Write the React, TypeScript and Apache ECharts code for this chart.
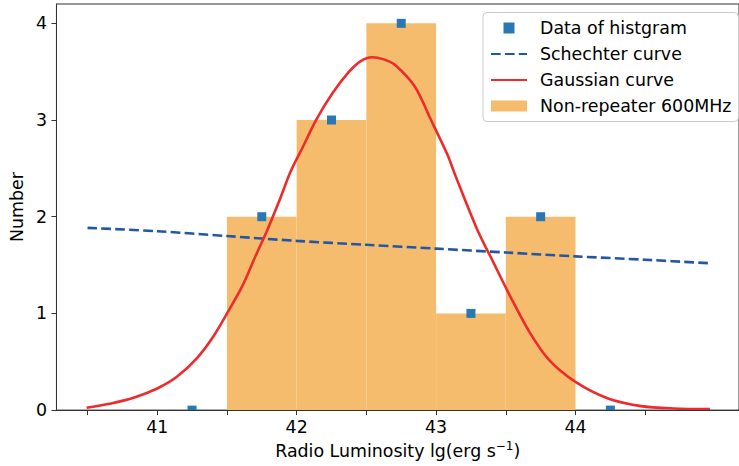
import React, { useEffect, useRef } from "react";
import * as echarts from "echarts";

const binEdges = [41.5, 42, 42.5, 43, 43.5, 44];
const binCounts = [2, 3, 4, 1, 2];

const histX = [41.25, 41.75, 42.25, 42.75, 43.25, 43.75, 44.25];
const histY = [0, 2, 3, 4, 1, 2, 0];

const schechterX = [40.5, 41, 41.5, 42, 42.5, 43, 43.5, 44, 44.5, 44.95];
const schechterY = [1.885, 1.85, 1.8, 1.75, 1.71, 1.67, 1.63, 1.59, 1.555, 1.52];

const gaussX = [40.494, 40.67, 40.836, 41.0, 41.141, 41.282, 41.4, 41.506, 41.612, 41.706, 41.786, 41.88, 41.953, 42.047, 42.141, 42.258, 42.376, 42.46, 42.541, 42.62, 42.706, 42.847, 42.964, 43.082, 43.14, 43.294, 43.411, 43.529, 43.67, 43.81, 44.0, 44.234, 44.47, 44.705, 44.964];
const gaussY = [0.025, 0.069, 0.13, 0.223, 0.344, 0.532, 0.756, 1.013, 1.287, 1.596, 1.85, 2.18, 2.455, 2.729, 3.004, 3.279, 3.5, 3.61, 3.65, 3.63, 3.57, 3.347, 3.0, 2.64, 2.42, 1.871, 1.528, 1.184, 0.807, 0.52, 0.292, 0.12, 0.041, 0.017, 0.01];

const xTicks = [40.5, 41, 41.5, 42, 42.5, 43, 43.5, 44, 44.5];
const xLabels = [41, 42, 43, 44];
const yTicks = [0, 1, 2, 3, 4];

const FONT = "DejaVu Sans";
const FS = 17.4;

export default function App() {
  const ref = useRef<HTMLDivElement>(null);
  useEffect(() => {
    if (!ref.current) return;
    const chart = echarts.init(ref.current, undefined, { renderer: "svg" });
    const bars = binCounts.map((c, i) => [binEdges[i], binEdges[i + 1], c]);
    const pts = histX.map((x, i) => [x, histY[i]]);
    const sch = schechterX.map((x, i) => [x, schechterY[i]]);
    const gau = gaussX.map((x, i) => [x, gaussY[i]]);
    chart.setOption({
      animation: false,
      grid: {
        left: 51.5,
        top: 4,
        width: 693.6,
        height: 407.7,
        show: true,
        borderColor: "#333",
        borderWidth: 1,
        backgroundColor: "transparent",
      },
      xAxis: {
        type: "value",
        min: 40.2775,
        max: 45.1725,
        z: 10,
        splitLine: { show: false },
        axisLine: { show: true, onZero: false, lineStyle: { color: "#333", width: 1 } },
        axisTick: { show: true, length: 5, customValues: xTicks, lineStyle: { color: "#333" } },
        axisLabel: {
          customValues: xLabels,
          formatter: (v: number) => String(v),
          fontSize: FS,
          fontFamily: FONT,
          color: "#000",
          margin: 8,
        },
        name: "Radio Luminosity lg(erg s{sup|−1})",
        nameLocation: "middle",
        nameGap: 29,
        nameTextStyle: {
          fontSize: FS,
          fontFamily: FONT,
          color: "#000",
          lineHeight: 21,
          rich: {
            sup: { fontSize: 12, fontFamily: FONT, color: "#000", verticalAlign: "top", lineHeight: 21 },
          },
        },
      },
      yAxis: {
        type: "value",
        min: 0,
        max: 4.2,
        z: 10,
        splitLine: { show: false },
        axisLine: { show: true, onZero: false, lineStyle: { color: "#333", width: 1 } },
        axisTick: { show: true, length: 5, customValues: yTicks, lineStyle: { color: "#333" } },
        axisLabel: {
          customValues: yTicks,
          formatter: (v: number) => String(v),
          fontSize: FS,
          fontFamily: FONT,
          color: "#000",
          margin: 9.5,
        },
        name: "Number",
        nameLocation: "middle",
        nameGap: 25,
        nameRotate: 90,
        nameTextStyle: { fontSize: FS, fontFamily: FONT, color: "#000" },
      },
      legend: {
        orient: "vertical",
        left: 483,
        top: 12.5,
        padding: [5.5, 7, 5.5, 7],
        itemWidth: 36,
        itemHeight: 11,
        itemGap: 6,
        borderColor: "#cccccc",
        borderWidth: 1,
        borderRadius: 4,
        backgroundColor: "rgba(255,255,255,0.85)",
        symbolKeepAspect: true,
        textStyle: { fontSize: FS, fontFamily: FONT, color: "#000", lineHeight: 20, padding: [0, 0, 0, 8] },
        data: [
          { name: "Data of histgram", icon: "path://M0,0h10v10h-10z" },
          { name: "Schechter curve", itemStyle: { opacity: 0 } },
          { name: "Gaussian curve", itemStyle: { opacity: 0 } },
          { name: "Non-repeater 600MHz", icon: "rect" },
        ],
      },
      series: [
        {
          name: "Non-repeater 600MHz",
          type: "custom",
          clip: true,
          z: 1,
          itemStyle: { color: "#f6bc6e" },
          encode: { x: [0, 1], y: 2 },
          data: bars,
          renderItem: (params: any, api: any) => {
            const p0 = api.coord([api.value(0), api.value(2)]);
            const p1 = api.coord([api.value(1), 0]);
            return {
              type: "rect",
              shape: { x: p0[0], y: p0[1], width: p1[0] - p0[0], height: p1[1] - p0[1] },
              style: { fill: "#f6bc6e" },
            };
          },
        },
        {
          name: "Schechter curve",
          type: "line",
          z: 3,
          symbol: "none",
          smooth: 0.3,
          data: sch,
          lineStyle: { color: "#2456a6", width: 2.6, type: [9.7, 4.2] },
          itemStyle: { color: "#2456a6" },
        },
        {
          name: "Gaussian curve",
          type: "line",
          z: 4,
          symbol: "none",
          smooth: 0.3,
          data: gau,
          lineStyle: { color: "#ee2b2b", width: 2.6 },
          itemStyle: { color: "#ee2b2b" },
        },
        {
          name: "Data of histgram",
          type: "custom",
          clip: true,
          z: 5,
          itemStyle: { color: "#2a78b2" },
          encode: { x: 0, y: 1 },
          data: pts,
          renderItem: (params: any, api: any) => {
            const p = api.coord([api.value(0), api.value(1)]);
            return {
              type: "rect",
              shape: { x: p[0] - 4.5, y: p[1] - 4.5, width: 9, height: 9 },
              style: { fill: "#2a78b2" },
            };
          },
        },
      ],
    });
    return () => chart.dispose();
  }, []);
  return (
    <div
      ref={ref}
      style={{ position: "fixed", left: 0, top: 0, width: 739, height: 466, background: "#fff" }}
    />
  );
}
